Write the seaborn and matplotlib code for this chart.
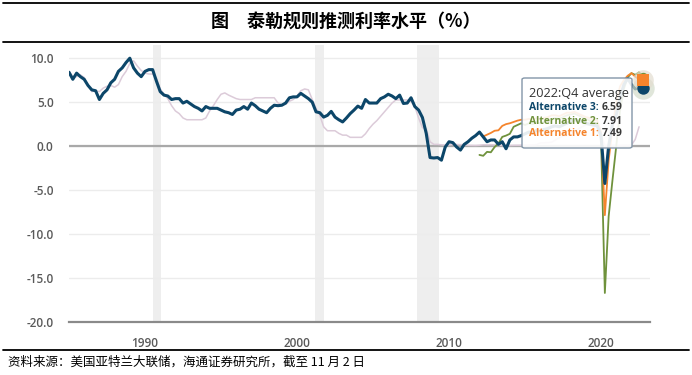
import matplotlib
matplotlib.use("Agg")
import matplotlib.pyplot as plt
from matplotlib.lines import Line2D
from matplotlib.patches import FancyBboxPatch
from matplotlib.text import Annotation
import seaborn as sns
import numpy as np
import pandas as pd

sns.set_style("white")
plt.rcParams['font.family'] = ['Noto Sans CJK SC', 'DejaVu Sans']

# quarterly data, first value = 1985Q1
start_year = 1985
alt3 = [8.4, 7.6, 8.3, 7.9, 7.6, 6.9, 6.4, 6.3, 5.3, 6.0, 6.4, 7.2,
        7.6, 8.5, 8.9, 9.5, 10.0, 8.9, 8.3, 7.9, 8.5, 8.7, 8.7, 7.4,
        6.2, 5.8, 5.7, 5.3, 5.4, 5.4, 4.9, 5.1, 4.8, 4.5, 4.3, 4.0,
        4.5, 4.3, 4.3, 4.3, 4.1, 3.9, 3.8, 3.6, 4.1, 4.2, 4.5, 4.2,
        4.9, 4.6, 4.2, 4.0, 3.8, 4.3, 4.65, 4.6, 4.65, 4.9, 5.5, 5.6,
        5.6, 6.0, 5.7, 5.4, 5.0, 3.9, 3.8, 3.3, 3.5, 3.95, 3.3, 3.0,
        2.75, 3.2, 3.7, 4.1, 4.55, 4.3, 5.3, 4.9, 4.9, 4.9, 5.4, 5.6,
        5.9, 5.7, 5.4, 5.8, 4.85, 4.9, 5.5, 4.5, 4.1, 3.25, 1.45, -1.3,
        -1.35, -1.3, -1.6, -0.1, 0.5, 0.4, -0.1, -0.45, 0.2, 0.5, 0.9, 1.2,
        1.6, 1.05, 0.5, 0.7, 0.7, 0.2, 0.5, -0.3, 0.7, 1.05, 1.05, 1.2,
        1.4, 1.6, 1.5, 1.8, 1.7, 1.9, 2.0, 2.2, 2.3, 2.2, 2.4, 2.6,
        2.8, 3.0, 2.9, 2.8, 2.6, 2.5, 2.4, 2.3, 1.2, -4.25, 0.0, 2.5,
        3.5, 5.5, 7.0, 7.7, 7.0, 6.5, 6.8, 6.59]
fed_funds = [8.5, 7.9, 7.9, 8.1, 7.8, 6.9, 6.2, 6.3, 6.2, 6.6, 6.8, 6.9,
             6.7, 7.0, 7.9, 8.5, 9.4, 9.7, 9.1, 8.6, 8.3, 8.2, 8.2, 7.7,
             6.5, 5.9, 5.4, 4.6, 4.0, 3.7, 3.2, 3.0, 3.0, 3.0, 3.0, 3.0,
             3.2, 4.0, 4.6, 5.3, 5.9, 6.05, 5.8, 5.6, 5.4, 5.3, 5.3, 5.3,
             5.3, 5.5, 5.5, 5.5, 5.5, 5.5, 5.5, 4.9, 4.7, 4.75, 5.1, 5.3,
             5.7, 6.3, 6.5, 6.4, 5.3, 4.3, 3.5, 2.2, 1.75, 1.75, 1.75, 1.45,
             1.25, 1.25, 1.0, 1.0, 1.0, 1.0, 1.4, 2.0, 2.5, 2.9, 3.4, 3.9,
             4.4, 4.9, 5.25, 5.25, 5.25, 5.25, 5.1, 4.5, 3.2, 2.1, 2.0, 0.5,
             0.2, 0.2, 0.15, 0.12, 0.13, 0.2, 0.19, 0.19, 0.16, 0.09, 0.08, 0.07,
             0.1, 0.15, 0.14, 0.16, 0.14, 0.12, 0.08, 0.09, 0.07, 0.09, 0.09, 0.1,
             0.11, 0.13, 0.13, 0.16, 0.36, 0.37, 0.39, 0.45, 0.7, 0.95, 1.15, 1.2,
             1.45, 1.75, 1.92, 2.22, 2.4, 2.4, 2.2, 1.65, 1.25, 0.06, 0.09, 0.09,
             0.08, 0.07, 0.09, 0.08, 0.12, 0.77, 2.2]

# alternatives start 2012Q1
alt_start = 2012
alt1 = [1.6, 1.1, 1.3, 1.5, 1.75, 1.8, 2.3, 2.5, 2.6, 2.75, 2.9, 3.0,
        3.0, 3.1, 3.0, 3.2, 3.0, 3.2, 3.3, 3.5, 3.5, 3.4, 3.6, 3.8,
        3.8, 3.9, 3.7, 3.5, 3.3, 3.2, 3.0, 2.9, 1.6, -7.85, -1.6, 2.0,
        5.0, 6.8, 7.5, 8.0, 8.3, 7.9, 7.6, 7.49]
alt2 = [-1.0, -1.1, -0.65, -0.7, -0.1, 0.3, 1.05, 1.2, 1.4, 2.2, 2.4, 2.6,
        2.4, 2.6, 2.5, 2.7, 2.6, 2.8, 3.0, 3.1, 3.2, 3.1, 3.3, 3.5,
        3.6, 3.7, 3.5, 3.3, 3.1, 2.9, 2.7, 2.6, 0.8, -16.7, -8.0, -3.9,
        0.0, 4.0, 6.5, 7.8, 8.3, 8.1, 8.4, 7.91]

recessions = [(1990.5, 1991.05), (2001.18, 2001.8), (2007.9, 2009.33)]
y_ticks = [10, 5, 0, -5, -10, -15, -20]
x_major = [1990, 2000, 2010, 2020]
x_minor = [1995, 2005, 2015]

tip_title = "2022:Q4 average"
tip_names = ["Alternative 3", "Alternative 2", "Alternative 1"]
tip_values = [6.59, 7.91, 7.49]

navy = "#0c4669"
orange = "#f5842c"
green = "#6f923c"
pink = "#dccbd9"
tip_colors = [navy, green, orange]


def frame(values, first):
    t = first + np.arange(len(values)) * 0.25
    return pd.DataFrame({"t": t, "v": values})


W, H = 692, 375
fig = plt.figure(figsize=(W / 100, H / 100), dpi=100)
ax = fig.add_axes([69 / W, 1 - 322 / H, (650 - 69) / W, (322 - 45) / H])

for a, b in recessions:
    ax.axvspan(a, b, color="#eeeeee", lw=0, zorder=0)

ax.axhline(0, color="#a9a9a9", lw=1.6, zorder=1)

sns.lineplot(data=frame(fed_funds, start_year), x="t", y="v", color=pink, lw=1.1, ax=ax, zorder=2)
sns.lineplot(data=frame(alt2, alt_start), x="t", y="v", color=green, lw=1.3, ax=ax, zorder=3)
sns.lineplot(data=frame(alt1, alt_start), x="t", y="v", color=orange, lw=1.3, ax=ax, zorder=4)
sns.lineplot(data=frame(alt3, start_year), x="t", y="v", color=navy, lw=2.2, ax=ax, zorder=5)

# highlighted end points
t_end = alt_start + (len(alt1) - 1) * 0.25
ax.scatter([t_end], [tip_values[0]], s=260, color="#d3dccb", alpha=0.7, lw=0, zorder=8, clip_on=False)
ax.scatter([t_end], [tip_values[2]], s=220, color="#e3ddd0", alpha=0.7, lw=0, zorder=8, clip_on=False)
ax.scatter([t_end], [tip_values[0]], s=80, color=navy, lw=0, zorder=9, clip_on=False)
ax.scatter([t_end], [tip_values[1]], s=45, color=green, lw=0, zorder=9, clip_on=False)
ax.scatter([t_end], [tip_values[2]], s=75, marker="s", color=orange, lw=0, zorder=10, clip_on=False)

ax.set_xlim(1985, 2023.22)
ax.set_ylim(-20, 11.5)
ax.set_xlabel("")
ax.set_ylabel("")
ax.set_yticks(y_ticks)
ax.set_yticklabels([f"{v:.1f}" for v in y_ticks])
ax.set_xticks(x_major)
ax.set_xticklabels([str(x) for x in x_major])
ax.set_xticks(x_minor, minor=True)
ax.yaxis.grid(True, color="#ececec", lw=1)
ax.xaxis.grid(False)
for s in ["top", "right", "left"]:
    ax.spines[s].set_visible(False)
ax.spines["bottom"].set_color("#8a8a8a")
ax.spines["bottom"].set_linewidth(1.6)
ax.tick_params(axis="y", length=0, pad=11)
ax.tick_params(axis="x", which="both", length=7, width=1, color="#cbd9ea", pad=4)
for lab in ax.get_yticklabels() + ax.get_xticklabels():
    lab.set_fontfamily("Open Sans")
    lab.set_fontweight("semibold")
    lab.set_fontsize(8.5)
    lab.set_color("#5a5a5a")

# tooltip
box = FancyBboxPatch((522 / W, 1 - 148 / H), 110 / W, 70 / H,
                     boxstyle="round,pad=0,rounding_size=0.004",
                     transform=fig.transFigure, fc=(1, 1, 1, 0.9),
                     ec="#8396a8", lw=1, zorder=20)
fig.add_artist(box)
fig.text(529 / W, 1 - 94 / H, tip_title, fontsize=9.2, color="#333333",
         family="Open Sans", va="center", zorder=21)
row_y = [108, 121, 133]
for name, val, c, y in zip(tip_names, tip_values, tip_colors, row_y):
    lab = fig.text(529 / W, 1 - y / H, f"{name}:", fontsize=7.5, color=c,
                   family="Open Sans", fontweight="bold", va="center", zorder=21)
    ann = Annotation(f"{val:.2f}", xy=(1, 0.5), xycoords=lab, xytext=(2, 0),
                     textcoords="offset points", fontsize=7.5, color="#3a3a3a",
                     family="Open Sans", fontweight="bold", va="center", ha="left",
                     zorder=21)
    fig.add_artist(ann)

# title, rules and source note
for y in [3, 42, 350]:
    fig.add_artist(Line2D([3 / W, 689 / W], [1 - y / H, 1 - y / H], color="black",
                          lw=1.3, transform=fig.transFigure))
fig.text(0.5, 1 - 21 / H, "图　泰勒规则推测利率水平（%）", ha="center", va="center",
         fontsize=13, fontweight="bold", color="black")
fig.text(8 / W, 1 - 362 / H, "资料来源：美国亚特兰大联储，海通证券研究所，截至 11 月 2 日",
         ha="left", va="center", fontsize=9, color="black")

fig.savefig("out.png", dpi=100)
